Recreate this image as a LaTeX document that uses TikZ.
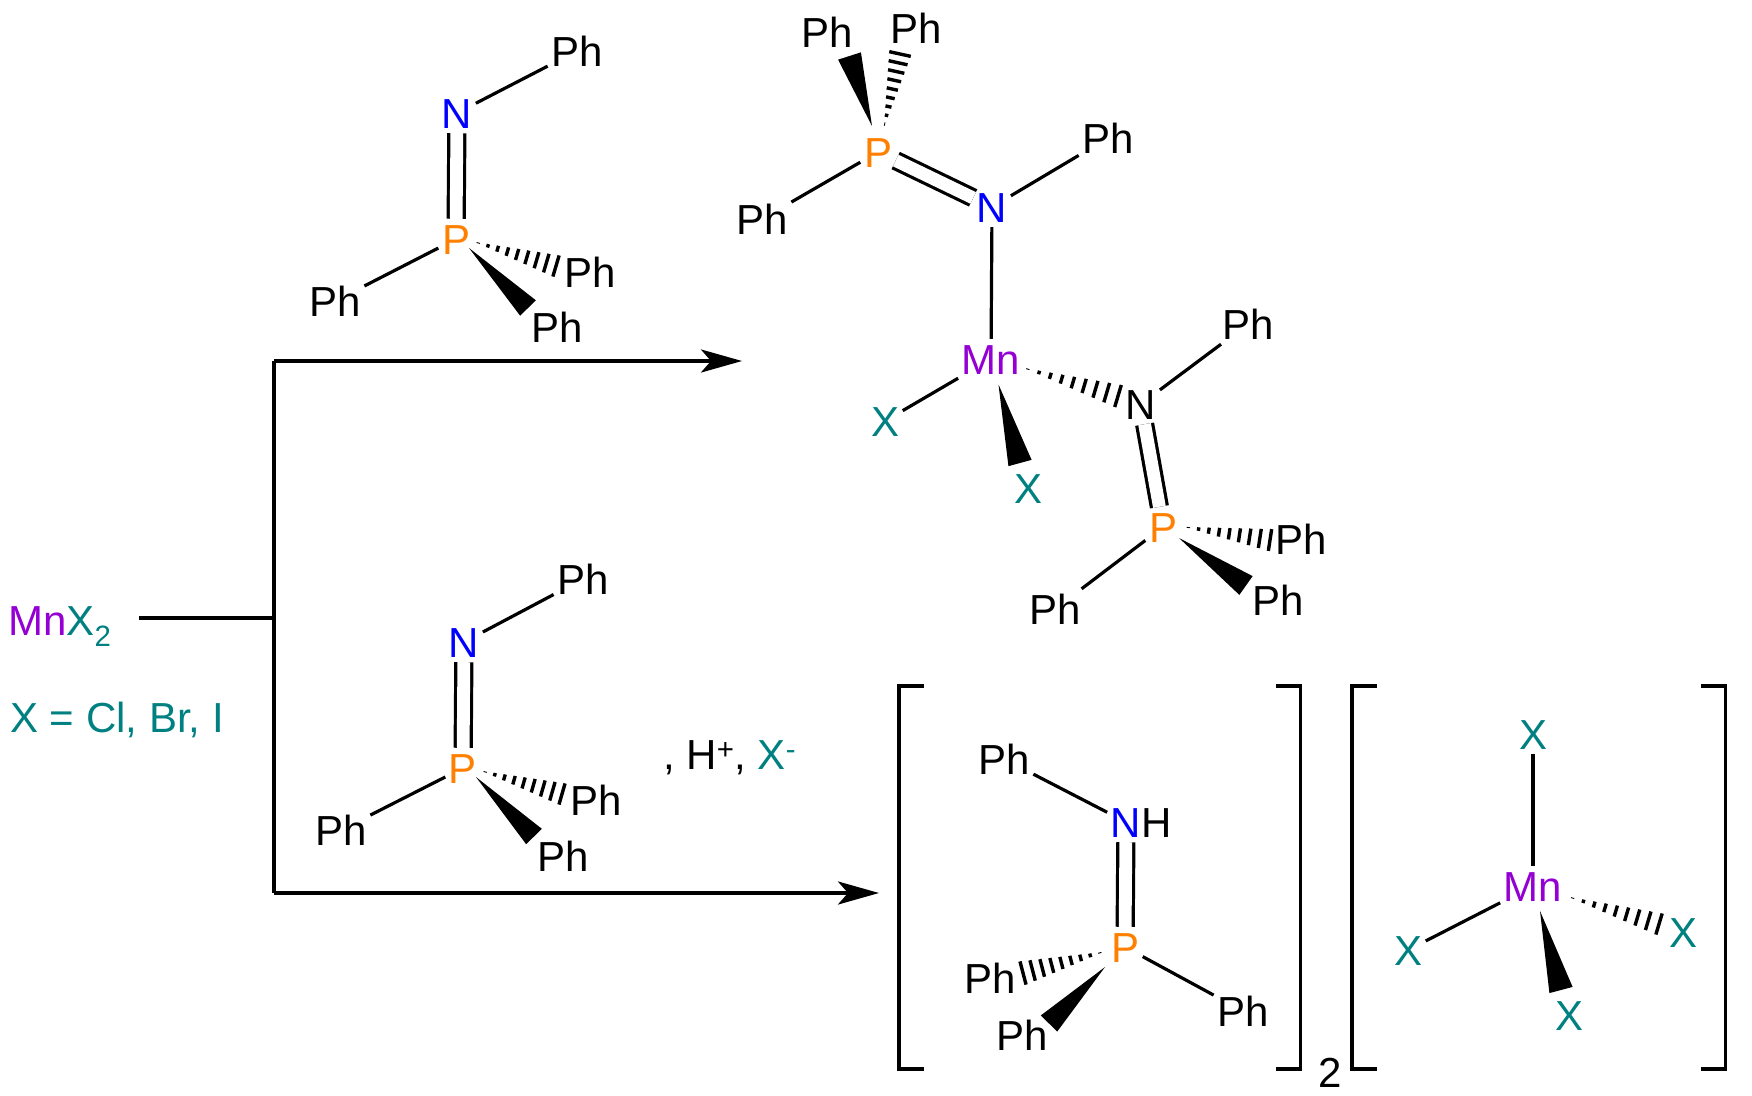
\documentclass[tikz,border=0pt]{standalone}
\usepackage{fontspec}
\setmainfont{Liberation Sans}
\usetikzlibrary{calc,arrows.meta}
\definecolor{mncol}{HTML}{9400D3}
\definecolor{halcol}{HTML}{008080}
\definecolor{pcol}{HTML}{FF8000}
\definecolor{ncol}{HTML}{0000FF}
\tikzset{
  chem/.style={font=\fontsize{42}{46}\selectfont},
  atom/.style={chem, inner xsep=3.5pt, inner ysep=5pt, text height=30pt, text depth=0pt},
  bond/.style={line width=3.2pt},
  dbond/.style={line width=3.2pt, double, double distance=12.8pt},
  rail/.style={line width=3.5pt},
  brack/.style={line width=3.2pt},
  wing/.style={line width=3.4pt},
  rxn/.style={rail, -{Stealth[length=41pt,width=23pt,inset=10pt]}}
}
\newcommand{\solidwedge}[3]{
  \coordinate (wa) at ($(#2)!#3!90:(#1)$);
  \coordinate (wb) at ($(#2)!#3!-90:(#1)$);
  \fill (#1) -- (wa) -- (wb) -- cycle;
}
\newcommand{\hashwedge}[3]{
  \coordinate (wa) at ($(#2)!#3!90:(#1)$);
  \coordinate (wb) at ($(#2)!#3!-90:(#1)$);
  \foreach \t in {.04,.16,.28,.4,.52,.64,.76,.88,1}
    \draw[wing] ($(#1)!\t!(wa)$) -- ($(#1)!\t!(wb)$);
}
\begin{document}
\begin{tikzpicture}[x=1pt,y=-1pt]
  \useasboundingbox (0,0) rectangle (1752,1095);

  % upper imine
  \node[atom] (phA) at (577,51) {Ph};
  \node[atom, text=ncol] (nA) at (457,113) {N};
  \node[atom, text=pcol] (pA) at (456,239) {P};
  \node[atom] (phB) at (590,272) {Ph};
  \node[atom] (phC) at (557,327) {Ph};
  \node[atom] (phD) at (335,301) {Ph};
  \draw[bond] (nA) -- (phA);
  \draw[dbond] (nA) -- (pA);
  \draw[bond] (pA) -- (phD);
  \hashwedge{$(pA)+(19,3)$}{$(phB)+(-34,-6)$}{11pt}
  \solidwedge{$(pA)+(13,9)$}{$(phC)+(-29,-19)$}{11pt}

  % lower imine
  \node[atom] (phE) at (583,579) {Ph};
  \node[atom, text=ncol] (nB) at (464,642) {N};
  \node[atom, text=pcol] (pB) at (463,768) {P};
  \node[atom] (phF) at (596,800) {Ph};
  \node[atom] (phG) at (563,856) {Ph};
  \node[atom] (phH) at (341,830) {Ph};
  \draw[bond] (nB) -- (phE);
  \draw[dbond] (nB) -- (pB);
  \draw[bond] (pB) -- (phH);
  \hashwedge{$(pB)+(19,3)$}{$(phF)+(-34,-6)$}{11pt}
  \solidwedge{$(pB)+(13,9)$}{$(phG)+(-29,-19.5)$}{11pt}

  % neutral complex
  \node[atom] (phI) at (827,32) {Ph};
  \node[atom] (phJ) at (916,28) {Ph};
  \node[atom, text=pcol] (pC) at (878,152) {P};
  \node[atom, text=ncol] (nC) at (992,207) {N};
  \node[atom] (phK) at (1108,138) {Ph};
  \node[atom] (phL) at (762,219) {Ph};
  \node[atom, text=mncol] (mnA) at (991,359) {Mn};
  \node[atom, text=halcol] (xA) at (885,421) {X};
  \node[atom, text=halcol] (xB) at (1028,488) {X};
  \node[atom] (nD) at (1141,404) {N};
  \node[atom] (phM) at (1248,324) {Ph};
  \node[atom, text=pcol] (pD) at (1163,527) {P};
  \node[atom] (phN) at (1301,539) {Ph};
  \node[atom] (phO) at (1278,600) {Ph};
  \node[atom] (phP) at (1055,609) {Ph};
  \draw[bond] (pC) -- (phL);
  \draw[dbond] (pC) -- (nC);
  \draw[bond] (nC) -- (phK);
  \draw[bond] (nC) -- (mnA);
  \draw[bond] (mnA) -- (xA);
  \draw[bond] (nD) -- (phM);
  \draw[dbond] (nD) -- (pD);
  \draw[bond] (pD) -- (phP);
  \solidwedge{$(pC)+(-6,-26)$}{$(phI)+(22.5,24)$}{12pt}
  \hashwedge{$(pC)+(6,-25)$}{$(phJ)+(-16,26)$}{11pt}
  \solidwedge{$(mnA)+(7.5,25.5)$}{$(xB)+(-8,-25)$}{12pt}
  \hashwedge{$(mnA)+(33,9)$}{$(nD)+(-23,-8)$}{11.5pt}
  \hashwedge{$(pD)+(22,0)$}{$(phN)+(-31,1)$}{11pt}
  \solidwedge{$(pD)+(16,11)$}{$(phO)+(-32,-14.5)$}{11.5pt}

  % cation
  \node[atom] (phQ) at (1004,759) {Ph};
  \node[atom, text=ncol] (nE) at (1126,822) {N};
  \node[atom] (hA) at (1157,822) {H};
  \node[atom, text=pcol] (pE) at (1125,947) {P};
  \node[atom] (phR) at (990,978) {Ph};
  \node[atom] (phS) at (1022,1035) {Ph};
  \node[atom] (phT) at (1243,1011) {Ph};
  \draw[bond] (nE) -- (phQ);
  \draw[dbond] (nE) -- (pE);
  \draw[bond] (pE) -- (phT);
  \hashwedge{$(pE)+(-22,5)$}{$(phR)+(33,-5)$}{12pt}
  \solidwedge{$(pE)+(-20,20)$}{$(phS)+(27,-11.5)$}{11.5pt}

  % anion
  \node[atom, text=halcol] (xC) at (1533,734) {X};
  \node[atom, text=mncol] (mnB) at (1533,886) {Mn};
  \node[atom, text=halcol] (xD) at (1408,950) {X};
  \node[atom, text=halcol] (xE) at (1683,932) {X};
  \node[atom, text=halcol] (xF) at (1569,1015) {X};
  \draw[bond] (mnB) -- (xC);
  \draw[bond] (mnB) -- (xD);
  \hashwedge{$(mnB)+(36,11)$}{$(xE)+(-24,-8)$}{11pt}
  \solidwedge{$(mnB)+(7,25)$}{$(xF)+(-8,-25)$}{12pt}

  % brackets
  \draw[brack] (924,686) -- (899,686) -- (899,1069) -- (924,1069);
  \draw[brack] (1275.5,686) -- (1300.5,686) -- (1300.5,1069) -- (1275.5,1069);
  \draw[brack] (1377,686) -- (1352,686) -- (1352,1069) -- (1377,1069);
  \draw[brack] (1701,686) -- (1725.5,686) -- (1725.5,1069) -- (1701,1069);
  \node[atom] (cnt) at (1330,1072) {2};

  % reagent and scheme lines
  \node[chem, inner sep=0pt, anchor=base west] (salt) at (8,635)
    {\textcolor{mncol}{Mn}\textcolor{halcol}{X\textsubscript{2}}};
  \node[chem, inner sep=0pt, anchor=base west, text=halcol] (halide) at (10,732) {X = Cl, Br, I};
  \node[chem, inner sep=0pt, anchor=base west] (extra) at (663,769)
    {, H\textsuperscript{+}, \textcolor{halcol}{X\textsuperscript{-}}};
  \coordinate (railtop) at (274,361);
  \coordinate (railmid) at (274,618);
  \coordinate (railbot) at (274,893);
  \coordinate (saltend) at (139,618);
  \coordinate (prodA) at (742,361);
  \coordinate (prodB) at (879,893);
  \draw[rail, line width=4.5pt] (saltend) -- (railmid);
  \draw[rail] (railtop) -- (railbot);
  \draw[rxn] (railtop) -- (prodA);
  \draw[rxn] (railbot) -- (prodB);
\end{tikzpicture}
\end{document}
